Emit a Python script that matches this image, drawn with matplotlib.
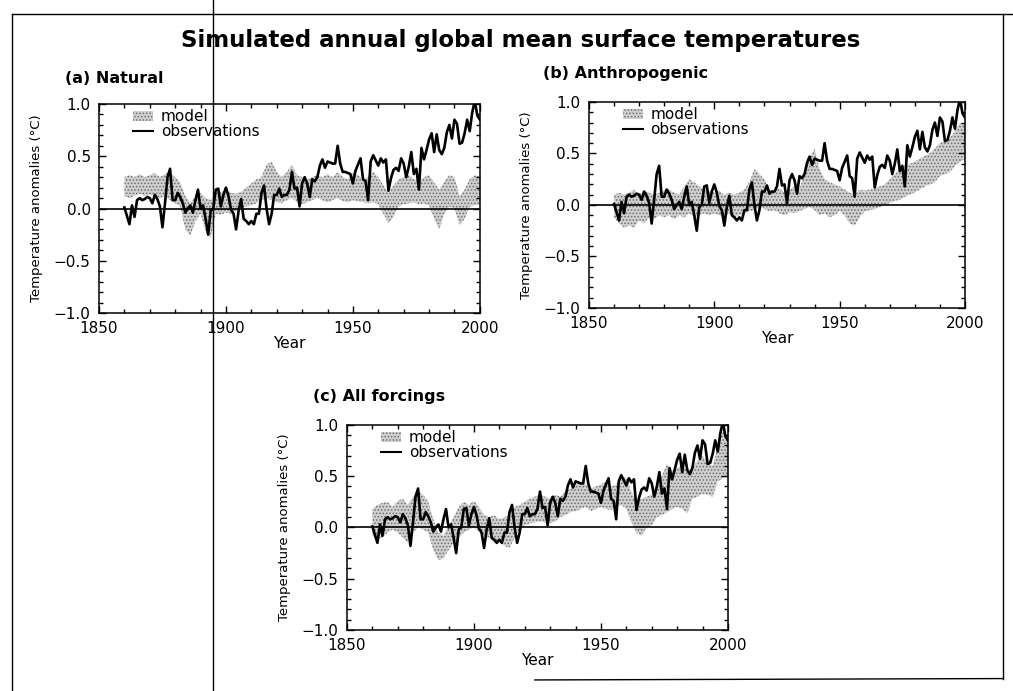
import matplotlib.pyplot as plt
from matplotlib.lines import Line2D
from matplotlib.patches import Patch
from matplotlib.ticker import MultipleLocator

plt.rcParams['font.family'] = ['DejaVu Sans']
plt.rcParams['hatch.linewidth'] = 0.7

# observed annual global mean anomalies, 1860-2000 (same in every panel)
obs_years = list(range(1860, 2001))
obs = [
    0.01, -0.07, -0.15, 0.03, -0.08, 0.08, 0.10, 0.08, 0.09, 0.11,   # 1860s
    0.10, 0.05, 0.13, 0.09, 0.02, -0.18, 0.05, 0.30, 0.38, 0.08,     # 1870s
    0.08, 0.15, 0.11, 0.05, -0.04, 0.00, 0.03, -0.04, 0.08, 0.18,    # 1880s
    0.00, 0.03, -0.10, -0.25, -0.02, 0.00, 0.18, 0.19, 0.02, 0.13,   # 1890s
    0.20, 0.12, -0.01, -0.05, -0.20, -0.02, 0.09, -0.10, -0.12, -0.15,  # 1900s
    -0.12, -0.15, -0.05, -0.05, 0.15, 0.22, 0.00, -0.15, -0.05, 0.13,   # 1910s
    0.13, 0.19, 0.11, 0.13, 0.13, 0.18, 0.35, 0.19, 0.20, 0.02,      # 1920s
    0.24, 0.30, 0.24, 0.11, 0.28, 0.26, 0.30, 0.41, 0.47, 0.39,      # 1930s
    0.45, 0.44, 0.43, 0.43, 0.60, 0.43, 0.35, 0.35, 0.34, 0.33,      # 1940s
    0.24, 0.36, 0.42, 0.48, 0.28, 0.26, 0.08, 0.45, 0.51, 0.46,      # 1950s
    0.41, 0.48, 0.44, 0.47, 0.17, 0.29, 0.37, 0.39, 0.36, 0.48,      # 1960s
    0.43, 0.30, 0.40, 0.54, 0.33, 0.38, 0.18, 0.58, 0.47, 0.56,      # 1970s
    0.66, 0.72, 0.54, 0.71, 0.56, 0.52, 0.58, 0.73, 0.80, 0.67,      # 1980s
    0.85, 0.81, 0.62, 0.63, 0.72, 0.85, 0.74, 0.92, 1.03, 0.89,      # 1990s
    0.85,
]

# model ensemble range, every second year 1860-2000
model_years = list(range(1860, 2001, 2))

natural_low = [
    0.12, 0.10, 0.12, 0.14, 0.12, 0.13, 0.12, 0.10, 0.12, 0.08,
    0.05, 0.02, -0.20, -0.26, -0.12, -0.05, -0.22, -0.28, -0.05, -0.06,
    -0.04, -0.05, -0.02, 0.00, 0.02, 0.03, 0.05, 0.08, 0.10, 0.08,
    0.06, 0.05, 0.08, 0.10, 0.06, 0.04, 0.06, 0.08, 0.10, 0.08,
    0.06, 0.08, 0.10, 0.07, 0.06, 0.08, 0.07, 0.06, 0.05, 0.06,
    0.04, -0.05, -0.14, -0.08, 0.02, 0.04, 0.05, 0.06, 0.04, 0.05,
    0.03, -0.10, -0.20, -0.05, 0.02, 0.00, -0.16, -0.10, 0.02, 0.03,
    0.04,
]
natural_high = [
    0.30, 0.32, 0.30, 0.33, 0.30, 0.32, 0.34, 0.30, 0.33, 0.35,
    0.30, 0.25, 0.12, 0.05, 0.12, 0.15, 0.10, 0.08, 0.15, 0.16,
    0.18, 0.15, 0.14, 0.16, 0.20, 0.24, 0.28, 0.30, 0.42, 0.45,
    0.35, 0.30, 0.35, 0.42, 0.32, 0.30, 0.28, 0.30, 0.32, 0.30,
    0.33, 0.30, 0.35, 0.30, 0.28, 0.34, 0.32, 0.28, 0.30, 0.35,
    0.30, 0.22, 0.15, 0.22, 0.28, 0.30, 0.32, 0.28, 0.26, 0.30,
    0.32, 0.25, 0.18, 0.26, 0.32, 0.30, 0.12, 0.18, 0.28, 0.32,
    0.30,
]

anthro_low = [
    -0.12, -0.18, -0.22, -0.20, -0.22, -0.15, -0.18, -0.12, -0.14, -0.10,
    -0.12, -0.10, -0.14, -0.10, -0.12, -0.08, -0.12, -0.10, -0.08, -0.10,
    -0.08, -0.10, -0.12, -0.08, -0.12, -0.10, -0.08, -0.06, -0.05, -0.02,
    -0.04, -0.06, -0.05, -0.08, -0.10, -0.07, -0.08, -0.06, -0.04, -0.02,
    -0.05, -0.10, -0.08, -0.12, -0.10, -0.06, -0.10, -0.18, -0.20, -0.12,
    -0.06, -0.05, -0.04, -0.02, 0.00, 0.02, 0.04, 0.05, 0.08, 0.10,
    0.12, 0.15, 0.18, 0.20, 0.22, 0.28, 0.30, 0.32, 0.38, 0.42,
    0.45,
]
anthro_high = [
    0.10, 0.12, 0.10, 0.12, 0.15, 0.10, 0.14, 0.12, 0.10, 0.12,
    0.14, 0.15, 0.12, 0.10, 0.18, 0.25, 0.22, 0.18, 0.15, 0.14,
    0.12, 0.14, 0.10, 0.12, 0.10, 0.12, 0.15, 0.22, 0.35, 0.30,
    0.25, 0.15, 0.14, 0.16, 0.12, 0.15, 0.18, 0.16, 0.30, 0.45,
    0.55, 0.35, 0.25, 0.22, 0.20, 0.18, 0.15, 0.12, 0.10, 0.15,
    0.14, 0.15, 0.16, 0.18, 0.20, 0.25, 0.30, 0.35, 0.38, 0.40,
    0.42, 0.45, 0.48, 0.50, 0.55, 0.60, 0.62, 0.65, 0.72, 0.80,
    0.78,
]

all_low = [
    -0.08, -0.12, -0.10, -0.05, -0.02, -0.05, -0.10, -0.15, -0.05, 0.00,
    -0.02, -0.05, -0.22, -0.32, -0.30, -0.22, -0.15, -0.10, -0.05, -0.02,
    0.00, -0.04, -0.08, -0.10, -0.15, -0.14, -0.18, -0.20, -0.10, -0.02,
    0.02, 0.04, 0.05, 0.06, 0.05, 0.04, 0.06, 0.10, 0.12, 0.15,
    0.16, 0.18, 0.20, 0.16, 0.18, 0.20, 0.18, 0.17, 0.20, 0.22,
    0.18, 0.05, -0.05, -0.08, 0.00, 0.02, 0.10, 0.12, 0.15, 0.18,
    0.20, 0.18, 0.14, 0.28, 0.30, 0.33, 0.32, 0.30, 0.45, 0.48,
    0.50,
]
all_high = [
    0.18, 0.22, 0.24, 0.25, 0.20, 0.26, 0.28, 0.22, 0.30, 0.35,
    0.32, 0.25, 0.08, -0.05, -0.08, 0.02, 0.10, 0.20, 0.25, 0.22,
    0.26, 0.20, 0.12, 0.10, 0.12, 0.08, 0.10, 0.12, 0.20, 0.22,
    0.25, 0.28, 0.30, 0.32, 0.30, 0.28, 0.32, 0.30, 0.35, 0.38,
    0.42, 0.45, 0.42, 0.38, 0.40, 0.42, 0.45, 0.40, 0.42, 0.50,
    0.48, 0.35, 0.25, 0.28, 0.30, 0.32, 0.40, 0.50, 0.62, 0.55,
    0.58, 0.60, 0.55, 0.58, 0.65, 0.70, 0.62, 0.60, 0.80, 0.95,
    0.85,
]

y_ticks = [-1.0, -0.5, 0.0, 0.5, 1.0]
y_tick_labels = ['\u22121.0', '\u22120.5', '0.0', '0.5', '1.0']
x_ticks = [1850, 1900, 1950, 2000]

MODEL_STYLE = dict(facecolor='#cfcfcf', edgecolor='#6e6e6e', hatch='.....', linewidth=0)


def draw_panel(fig, rect, low, high, label, label_xy):
    """Draws one panel: model range as a stippled band plus the observations."""
    ax = fig.add_axes(rect)
    ax.fill_between(model_years, low, high, **MODEL_STYLE)
    ax.axhline(0, color='black', lw=1.2)
    ax.plot(obs_years, obs, color='black', lw=1.9)

    ax.set_xlim(1850, 2000)
    ax.set_ylim(-1.0, 1.0)
    ax.set_xticks(x_ticks)
    ax.set_yticks(y_ticks)
    ax.set_yticklabels(y_tick_labels)
    ax.xaxis.set_minor_locator(MultipleLocator(10))
    ax.yaxis.set_minor_locator(MultipleLocator(0.1))
    ax.tick_params(which='both', direction='in', top=True, right=True,
                   labelsize=11, pad=6, width=1)
    ax.tick_params(which='major', length=5)
    ax.tick_params(which='minor', length=3)
    for s in ax.spines.values():
        s.set_linewidth(1.1)

    ax.set_xlabel('Year', fontsize=11, labelpad=0)
    ax.set_ylabel('Temperature anomalies (\u00b0C)', fontsize=9.5, labelpad=8)

    handles = [Patch(**MODEL_STYLE), Line2D([], [], color='black', lw=1.5)]
    ax.legend(handles, ['model', 'observations'], loc='upper left',
              bbox_to_anchor=(0.09, 0.975), frameon=False, fontsize=11,
              handlelength=1.3, handleheight=0.6, handletextpad=0.5,
              labelspacing=0.0, borderpad=0, borderaxespad=0)

    fig.text(label_xy[0], label_xy[1], label, fontsize=11.5, fontweight='bold',
             ha='left', va='center')
    return ax


fig = plt.figure(figsize=(10.13, 6.91), dpi=100)

fig.text(0.514, 0.942, 'Simulated annual global mean surface temperatures',
         fontsize=16.5, fontweight='bold', ha='center', va='center')

draw_panel(fig, [0.0977, 0.547, 0.376, 0.3025], natural_low, natural_high,
           '(a) Natural', (0.064, 0.886))
draw_panel(fig, [0.5814, 0.5543, 0.3712, 0.2981], anthro_low, anthro_high,
           '(b) Anthropogenic', (0.536, 0.894))
draw_panel(fig, [0.3425, 0.0883, 0.3761, 0.2967], all_low, all_high,
           '(c) All forcings', (0.309, 0.4255))

# page frame of the scanned figure
frame = [
    ((0.012, 1.0), (0.980, 0.980)),
    ((0.012, 0.012), (0.0, 0.980)),
    ((0.990, 0.990), (0.018, 0.980)),
    ((0.528, 0.990), (0.016, 0.018)),
    ((0.210, 0.210), (0.0, 1.0)),
]
for xs, ys in frame:
    fig.add_artist(Line2D(xs, ys, transform=fig.transFigure, color='black', lw=1.0))

fig.savefig('out.png', dpi=100)
